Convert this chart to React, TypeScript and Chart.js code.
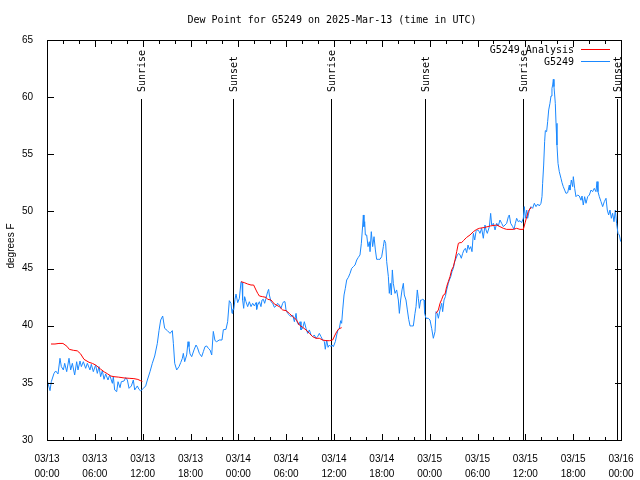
import { useEffect, useRef } from "react";
import { Chart, registerables } from "chart.js";

Chart.register(...registerables);

const TITLE = "Dew Point for G5249 on 2025-Mar-13 (time in UTC)";
const Y_TITLE = "degrees F";
const X_MIN_H = 0;
const X_MAX_H = 72;
const Y_MIN = 30;
const Y_MAX = 65;
const DAY_LABELS = ["03/13", "03/14", "03/15", "03/16"];
const TIME_LABELS = ["00:00", "06:00", "12:00", "18:00"];

// Sunrise / sunset markers (hours since 2025-03-13 00:00 UTC)
const eventHours = [11.75, 23.37, 35.65, 47.42, 59.72, 71.55];
const eventLabels = ["Sunrise", "Sunset", "Sunrise", "Sunset", "Sunrise", "Sunset"];

const ANA_LABEL = "G5249 Analysis";
const OBS_LABEL = "G5249";

// Analysis series (hours since 03/13 00:00 UTC, degrees F); null = gap
const anaHours = [
  0.5, 1.0, 1.5, 2.0, 2.5, 2.8, 3.3, 3.8, 4.2, 4.64, 5.27, 5.7, 6.1, 6.73, 7.2, 7.57, 8.0, 8.4, 9.0, 9.66, 10.3, 10.9, 11.4, 11.7, 11.96,
  12.2,
  24.34, 24.75, 25.17, 25.59, 25.92, 26.22, 26.43, 26.64, 27.05, 27.47, 27.68, 28.1, 28.52, 29.14, 29.56, 29.98, 30.4, 30.82, 31.24, 31.65,
  32.07, 32.49, 32.91, 33.33, 33.74, 34.16, 34.58, 35.0, 35.42, 35.83, 36.13, 36.34, 36.55, 36.75, 36.96,
  37.2,
  48.8, 49.09, 49.3, 49.51, 49.72, 49.93, 50.13, 50.34, 50.55, 50.76, 50.97, 51.18, 51.39, 51.6, 51.81, 52.0, 52.23, 52.64, 53.06, 53.48,
  53.9, 54.23, 54.9, 55.6, 56.4, 56.82, 57.24, 57.66, 58.5, 58.91, 59.33, 59.75, 59.97, 60.17, 60.38, 60.6, 60.71,
];
const anaDewF: (number | null)[] = [
  38.4, 38.4, 38.45, 38.45, 38.2, 37.93, 37.85, 37.8, 37.55, 37.06, 36.8, 36.7, 36.56, 36.2, 35.95, 35.8, 35.6, 35.54, 35.5, 35.43, 35.4, 35.37, 35.3, 35.2, 35.13,
  null,
  43.85, 43.77, 43.65, 43.56, 43.56, 43.12, 42.83, 42.6, 42.54, 42.48, 42.31, 42.25, 41.9, 41.67, 41.38, 41.32, 41.08, 40.79, 40.56, 40.06,
  39.86, 39.63, 39.33, 39.04, 38.9, 38.9, 38.75, 38.69, 38.69, 38.75, 39.19, 39.48, 39.68, 39.77, 39.83,
  null,
  41.08, 41.38, 41.96, 42.31, 42.69, 42.78, 43.42, 43.86, 44.29, 44.88, 45.17, 45.75, 46.48, 47.21, 47.27, 47.27, 47.44, 47.73, 47.94, 48.23,
  48.43, 48.52, 48.6, 48.73, 48.81, 48.67, 48.52, 48.43, 48.43, 48.52, 48.43, 48.43, 49.0, 49.54, 50.0, 50.27, 50.36,
];

// Observed series (hours since 03/13 00:00 UTC, degrees F)
const obsHours = [
  0.0, 0.38, 0.54, 0.88, 1.09, 1.38, 1.63, 1.8, 2.05, 2.22, 2.47, 2.76, 2.97, 3.18, 3.47, 3.72, 3.89, 4.14, 4.31, 4.56, 4.85, 5.06, 5.39,
  5.56, 5.81, 6.1, 6.31, 6.52, 6.73, 6.94, 7.15, 7.36, 7.65, 7.86, 8.2, 8.32, 8.49, 8.74, 8.91, 9.16, 9.32, 9.66, 9.87, 10.08, 10.29,
  10.58, 10.83, 11.0, 11.33, 11.54, 11.75, 12.08, 12.38, 12.59, 12.92, 13.21, 13.51, 13.84, 14.05, 14.26, 14.51, 14.76, 15.1, 15.43,
  15.72, 15.85, 16.02, 16.27, 16.56, 16.77, 16.98, 17.1, 17.27, 17.52, 17.69, 17.81, 17.94, 18.15, 18.44, 18.69, 18.86, 19.11, 19.4,
  19.61, 19.82, 20.03, 20.24, 20.45, 20.66, 20.86, 21.07, 21.28, 21.6, 21.95, 22.12, 22.45, 22.66, 22.87, 23.08, 23.21, 23.29, 23.42,
  23.58, 23.71, 23.92, 24.13, 24.34, 24.46, 24.54, 24.67, 24.79, 24.96, 25.17, 25.38, 25.59, 25.8, 26.01, 26.22, 26.3, 26.43, 26.64,
  26.84, 26.97, 27.14, 27.3, 27.47, 27.68, 27.8, 27.89, 28.1, 28.31, 28.52, 28.73, 28.93, 29.14, 29.35, 29.56, 29.69, 29.85, 29.98,
  30.19, 30.4, 30.61, 30.82, 31.03, 31.24, 31.36, 31.57, 31.74, 31.86, 32.07, 32.28, 32.49, 32.7, 32.91, 33.12, 33.33, 33.53, 33.74,
  33.95, 34.16, 34.37, 34.58, 34.79, 34.91, 35.08, 35.25, 35.42, 35.62, 35.75, 35.92, 36.17, 36.34, 36.5, 36.67, 36.84, 36.96, 37.09,
  37.26, 37.42, 37.59, 37.8, 38.01, 38.22, 38.43, 38.64, 38.85, 39.05, 39.26, 39.43, 39.6, 39.68, 39.76, 39.85, 39.93, 40.1, 40.27,
  40.43, 40.52, 40.68, 40.85, 41.02, 41.19, 41.35, 41.56, 41.77, 41.98, 42.19, 42.32, 42.48, 42.61, 42.82, 42.94, 43.07, 43.19, 43.32,
  43.44, 43.65, 43.86, 44.07, 44.2, 44.36, 44.53, 44.7, 44.82, 45.03, 45.2, 45.37, 45.54, 45.74, 45.95, 46.16, 46.29, 46.45, 46.58,
  46.71, 46.87, 47.0, 47.12, 47.29, 47.37, 47.54, 47.83, 48.04, 48.25, 48.46, 48.67, 48.8, 48.96, 49.09, 49.3, 49.51, 49.63, 49.8,
  49.97, 50.13, 50.34, 50.47, 50.64, 50.8, 50.97, 51.14, 51.31, 51.47, 51.64, 51.81, 51.97, 52.14, 52.31, 52.48, 52.64, 52.81, 52.98,
  53.15, 53.31, 53.48, 53.65, 53.81, 53.98, 54.15, 54.31, 54.52, 54.73, 54.94, 55.07, 55.23, 55.49, 55.65, 55.78, 55.99, 56.2, 56.41,
  56.61, 56.82, 57.03, 57.24, 57.45, 57.66, 57.87, 57.99, 58.16, 58.41, 58.58, 58.75, 58.91, 59.12, 59.33, 59.54, 59.75, 59.87, 60.0,
  60.17, 60.29, 60.5, 60.71, 60.92, 61.13, 61.34, 61.55, 61.75, 61.96, 62.09, 62.17, 62.3, 62.42, 62.51, 62.67, 62.8, 62.93, 63.09,
  63.22, 63.34, 63.43, 63.51, 63.59, 63.68, 63.76, 63.85, 63.97, 64.1, 64.26, 64.47, 64.6, 64.76, 64.93, 65.1, 65.31, 65.52, 65.6,
  65.77, 65.94, 66.02, 66.19, 66.35, 66.56, 66.77, 66.98, 67.11, 67.27, 67.44, 67.61, 67.82, 68.03, 68.24, 68.44, 68.65, 68.86, 68.99,
  69.11, 69.28, 69.49, 69.7, 69.91, 70.12, 70.28, 70.45, 70.62, 70.79, 70.95, 71.12, 71.29, 71.45, 71.62, 71.79, 71.96,
];
const obsDewF = [
  35.3, 34.32, 35.1, 35.83, 36.04, 35.78, 37.15, 36.42, 36.13, 36.71, 35.98, 37.15, 36.13, 36.71, 35.69, 36.85, 36.13, 36.91, 36.42, 36.85, 36.27, 36.71, 36.13,
  36.62, 35.98, 36.56, 35.83, 36.42, 35.54, 36.07, 35.31, 35.78, 35.25, 35.69, 34.96, 35.54, 34.38, 34.23, 35.1, 34.58, 35.1, 35.16, 35.45, 35.25, 34.52,
  34.73, 35.25, 34.38, 34.73, 34.43, 34.29, 34.52, 34.73, 35.25, 35.98, 36.71, 37.35, 38.46, 39.57, 40.5, 40.85, 39.77, 39.57, 39.33,
  39.57, 38.46, 36.71, 36.13, 36.42, 36.77, 37.15, 37.58, 36.85, 37.44, 38.6, 38.17, 37.53, 37.29, 37.88, 38.31, 38.11, 37.58, 37.29,
  37.73, 38.17, 38.23, 38.02, 37.88, 37.44, 39.5, 38.7, 38.6, 38.75, 38.75, 39.65, 39.68, 40.35, 42.19, 41.96, 41.08, 41.43, 41.38,
  42.31, 42.77, 42.02, 42.4, 43.85, 43.77, 42.25, 41.52, 42.54, 42.1, 41.67, 42.1, 41.67, 41.96, 41.73, 42.02, 41.43, 41.81, 42.1,
  41.67, 42.25, 42.31, 41.96, 42.4, 42.98, 43.18, 42.69, 42.1, 41.96, 41.61, 41.73, 41.96, 41.81, 41.52, 41.96, 42.1, 42.1, 41.38,
  41.08, 40.94, 40.79, 40.94, 40.35, 41.08, 40.35, 40.06, 40.35, 39.63, 39.77, 40.35, 39.77, 39.33, 39.63, 39.19, 39.04, 39.19, 38.9,
  39.04, 39.33, 39.04, 38.75, 38.6, 37.94, 38.75, 38.11, 38.31, 38.17, 38.31, 38.17, 38.61, 39.19, 39.63, 39.77, 40.44, 40.21, 41.38,
  42.69, 43.27, 44.0, 44.23, 44.58, 45.02, 45.17, 45.31, 45.75, 45.98, 46.19, 47.21, 48.81, 49.69, 48.67, 49.1, 47.94, 47.94, 46.92,
  47.35, 46.48, 48.23, 46.92, 47.79, 46.63, 45.81, 45.81, 45.81, 46.04, 46.92, 47.5, 47.21, 45.6, 44.29, 42.83, 43.71, 42.69, 44.88,
  43.71, 42.83, 43.13, 42.25, 41.08, 42.25, 43.13, 43.71, 42.69, 42.25, 41.38, 40.56, 39.98, 39.98, 39.98, 41.08, 41.67, 43.13, 42.4,
  41.52, 42.25, 42.25, 42.31, 42.25, 41.08, 40.65, 40.65, 40.5, 39.77, 38.9, 39.48, 41.23, 41.08, 40.65, 41.38, 41.96, 41.23, 42.25,
  42.54, 43.13, 43.71, 44.0, 44.29, 44.73, 45.02, 45.6, 45.9, 46.19, 46.33, 46.19, 45.9, 46.33, 46.63, 46.77, 46.39, 47.06, 46.68,
  46.92, 46.48, 48.08, 47.5, 48.23, 48.38, 48.32, 48.08, 48.52, 47.65, 48.81, 48.38, 48.08, 48.67, 49.83, 48.81, 48.96, 48.38, 48.96,
  48.73, 49.25, 48.96, 48.67, 48.81, 48.96, 49.54, 49.69, 48.96, 48.67, 48.43, 48.96, 49.4, 49.1, 49.19, 49.02, 49.4, 50.42, 49.4,
  50.12, 49.4, 50.12, 50.42, 50.27, 50.71, 50.42, 50.65, 50.48, 50.71, 51.29, 52.46, 54.06, 56.1, 57.07, 56.98, 57.85, 58.88, 59.46,
  60.1, 60.77, 61.06, 61.56, 60.92, 60.19, 59.46, 57.71, 55.81, 54.21, 53.48, 52.9, 52.52, 52.17, 51.87, 51.58, 51.64, 52.31, 51.87,
  52.75, 52.17, 53.04, 52.02, 51.29, 51.44, 51.35, 50.98, 51.35, 50.56, 51.29, 50.71, 51.29, 51.44, 51.87, 51.73, 52.02, 51.73, 52.61,
  51.73, 51.29, 50.86, 50.42, 50.86, 51.15, 50.12, 49.69, 50.12, 49.4, 49.84, 49.1, 50.12, 48.96, 48.08, 47.94, 47.36,
];

const RED = "#ff0000";
const BLUE = "#1a88ff";
const SERIES_LABELS = [ANA_LABEL, OBS_LABEL];
const SERIES_COLORS = [RED, BLUE];
const MONO = "'DejaVu Sans Mono', monospace";
const SANS = "'Liberation Sans', Arial, sans-serif";

const toPoints = (xs: number[], ys: (number | null)[]) => xs.map((x, i) => ({ x, y: ys[i] }));

const overlayPlugin = {
  id: "gnuplotOverlay",
  beforeDatasetsDraw(chart: any) {
    const { ctx, chartArea } = chart;
    const xs = chart.scales.x;
    ctx.save();
    ctx.fillStyle = "#000";
    ctx.font = `10px ${MONO}`;
    eventHours.forEach((h, i) => {
      const px = Math.round(xs.getPixelForValue(h));
      ctx.fillRect(px, chartArea.top + 59, 1, chartArea.bottom - chartArea.top - 59);
      ctx.save();
      ctx.translate(px + 1, chartArea.top + 52);
      ctx.rotate(-Math.PI / 2);
      ctx.textAlign = "left";
      ctx.textBaseline = "middle";
      ctx.fillText(eventLabels[i], 0, 0);
      ctx.restore();
    });
    ctx.restore();
  },
  afterDraw(chart: any) {
    const { ctx, chartArea } = chart;
    const xs = chart.scales.x;
    const ys = chart.scales.y;
    const L = Math.round(chartArea.left);
    const R = Math.round(chartArea.right);
    const T = Math.round(chartArea.top);
    const B = Math.round(chartArea.bottom);
    ctx.save();
    ctx.fillStyle = "#000";
    // frame
    ctx.fillRect(L, T, R - L + 1, 1);
    ctx.fillRect(L, B, R - L + 1, 1);
    ctx.fillRect(L, T, 1, B - T + 1);
    ctx.fillRect(R, T, 1, B - T + 1);
    // x ticks every 2 hours, major every 6 hours
    for (let h = X_MIN_H; h <= X_MAX_H; h += 2) {
      const px = Math.round(xs.getPixelForValue(h));
      const len = h % 6 === 0 ? 6 : 3;
      ctx.fillRect(px, B - len, 1, len);
      ctx.fillRect(px, T + 1, 1, len);
    }
    for (let v = Y_MIN; v <= Y_MAX; v += 5) {
      const py = Math.round(ys.getPixelForValue(v));
      ctx.fillRect(L + 1, py, 6, 1);
      ctx.fillRect(R - 6, py, 6, 1);
    }

    // title
    ctx.font = `10px ${MONO}`;
    ctx.textAlign = "center";
    ctx.textBaseline = "middle";
    ctx.fillText(TITLE, (chartArea.left + chartArea.right) / 2 - 2, 20);

    // y axis title
    ctx.save();
    ctx.font = `10px ${SANS}`;
    ctx.translate(11, (chartArea.top + chartArea.bottom) / 2 + 6);
    ctx.rotate(-Math.PI / 2);
    ctx.textAlign = "center";
    ctx.textBaseline = "middle";
    ctx.fillText(Y_TITLE, 0, 0);
    ctx.restore();

    // legend (top-right, inside)
    ctx.font = `10px ${MONO}`;
    ctx.textAlign = "right";
    ctx.textBaseline = "middle";
    SERIES_LABELS.forEach((label, i) => {
      const y = T + 10 + i * 12;
      ctx.fillStyle = "#000";
      ctx.fillText(label, R - 47, y);
      ctx.fillStyle = SERIES_COLORS[i];
      ctx.fillRect(R - 40, y - 1, 29, 1);
    });
    ctx.restore();
  },
};

export default function App() {
  const ref = useRef<HTMLCanvasElement>(null);
  useEffect(() => {
    const chart = new Chart(ref.current as HTMLCanvasElement, {
      type: "line",
      data: {
        datasets: [
          {
            label: SERIES_LABELS[0],
            data: toPoints(anaHours, anaDewF),
            borderColor: SERIES_COLORS[0],
            backgroundColor: SERIES_COLORS[0],
            borderWidth: 1,
            pointRadius: 0,
            tension: 0,
            spanGaps: false,
          },
          {
            label: SERIES_LABELS[1],
            data: toPoints(obsHours, obsDewF),
            borderColor: SERIES_COLORS[1],
            backgroundColor: SERIES_COLORS[1],
            borderWidth: 1,
            pointRadius: 0,
            tension: 0,
          },
        ],
      },
      options: {
        responsive: false,
        animation: false,
        layout: { padding: { top: 40, right: 19, left: 0, bottom: 0 } },
        plugins: { legend: { display: false }, tooltip: { enabled: false }, title: { display: false } },
        scales: {
          x: {
            type: "linear",
            min: X_MIN_H,
            max: X_MAX_H,
            grid: { display: false },
            border: { display: false },
            afterBuildTicks: (s: any) => {
              const t = [];
              for (let h = X_MIN_H; h <= X_MAX_H; h += 6) t.push({ value: h });
              s.ticks = t;
            },
            afterFit: (s: any) => {
              s.height = 40;
            },
            ticks: {
              autoSkip: false,
              maxRotation: 0,
              minRotation: 0,
              padding: 4,
              color: "#000",
              font: { family: SANS, size: 10, lineHeight: 1.5 },
              callback: (v: any) => {
                const h = Number(v);
                return [DAY_LABELS[Math.floor(h / 24)], TIME_LABELS[Math.round((h % 24) / 6)]];
              },
            },
          },
          y: {
            min: Y_MIN,
            max: Y_MAX,
            grid: { display: false },
            border: { display: false },
            afterFit: (s: any) => {
              s.width = 47;
            },
            ticks: {
              stepSize: 5,
              padding: 6,
              color: "#000",
              font: { family: SANS, size: 10 },
            },
          },
        },
      },
      plugins: [overlayPlugin],
    } as any);
    return () => chart.destroy();
  }, []);
  return (
    <div style={{ position: "fixed", left: 0, top: 0, width: 640, height: 480, background: "#fff" }}>
      <canvas ref={ref} width={640} height={480} style={{ display: "block", width: 640, height: 480 }} />
    </div>
  );
}
